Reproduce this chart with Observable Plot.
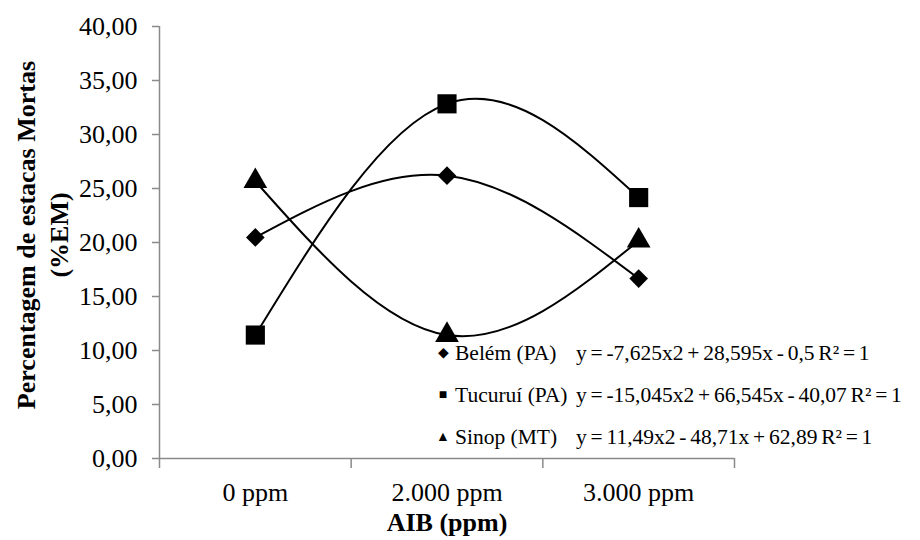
<!DOCTYPE html>
<html>
<head>
<meta charset="utf-8">
<script src="https://cdn.jsdelivr.net/npm/d3@7"></script>
<script src="https://cdn.jsdelivr.net/npm/@observablehq/plot@0.6"></script>
<style>
  html, body { margin: 0; padding: 0; background: #fff; }
  #wrap { position: relative; width: 920px; height: 540px; font-family: "Liberation Serif", "Times New Roman", serif; color: #000; }
  #ytitle { position: absolute; left: 43px; top: 235px; width: 420px; transform: translate(-50%, -50%) rotate(-90deg);
            text-align: center; font-weight: bold; font-size: 26px; line-height: 33px; white-space: nowrap;
            font-family: "Liberation Serif", serif; }
  #xtitle { position: absolute; left: 447px; top: 523px; transform: translate(-50%, -50%); font-weight: bold; font-size: 26px;
            white-space: nowrap; font-family: "Liberation Serif", serif; }
  #legend { position: absolute; left: 436px; top: 332px; font-size: 21.5px; font-family: "Liberation Serif", serif; }
  .row { height: 42px; line-height: 42px; white-space: nowrap; display: flex; align-items: center; }
  .row span { font-family: "Liberation Serif", serif; }
  .mk { display: inline-block; width: 14px; font-size: 14px; text-align: center; margin-right: 5px; }
  .lab { display: inline-block; width: 121px; }
  .eq { word-spacing: -1.6px; }
</style>
</head>
<body>
<div id="wrap"></div>
<script>
const categories = ["0 ppm", "2.000 ppm", "3.000 ppm"];
const seriesNames = ["Belém (PA)", "Tucuruí (PA)", "Sinop (MT)"];
const belem = [20.47, 26.19, 16.66];
const tucurui = [11.43, 32.84, 24.16];
const sinop = [25.67, 11.43, 20.17];
const equations = [
  "y = -7,625x2 + 28,595x - 0,5 R² = 1",
  "y = -15,045x2 + 66,545x - 40,07 R² = 1",
  "y = 11,49x2 - 48,71x + 62,89 R² = 1"
];
const legendGlyphs = ["◆", "■", "▲"];
const yTicks = [0, 5, 10, 15, 20, 25, 30, 35, 40];
const yTitle = ["Percentagem de estacas Mortas", "(%EM)"];
const xTitle = "AIB (ppm)";

const valuesBySeries = [belem, tucurui, sinop];
const data = [];
seriesNames.forEach((s, si) => {
  valuesBySeries[si].forEach((v, i) => data.push({series: s, pos: i + 1, cat: categories[i], value: v}));
});

const symbols = ["diamond2", "square", "triangle"];
const radii = [8.4, 10.8, 8.8];
const fmt = d => d.toFixed(2).replace(".", ",");

const plot = Plot.plot({
  width: 920,
  height: 540,
  marginLeft: 159,
  marginRight: 186,
  marginTop: 26,
  marginBottom: 82,
  x: {domain: [0.5, categories.length + 0.5]},
  y: {domain: [0, 40]},
  style: {fontFamily: "'Liberation Serif', 'Times New Roman', serif", fontSize: "26px", color: "#000", background: "transparent"},
  marks: [
    Plot.ruleY([0], {stroke: "#8a8a8a", strokeWidth: 1.5}),
    Plot.ruleX([0.5], {stroke: "#8a8a8a", strokeWidth: 1.5}),
    Plot.axisY({ticks: yTicks, tickSize: 7, tickPadding: 15, stroke: "#8a8a8a", strokeWidth: 1.5, tickFormat: fmt, label: null, fontSize: 26}),
    Plot.axisX({ticks: d3.range(categories.length + 1).map(i => i + 0.5), tickSize: 10, stroke: "#8a8a8a", strokeWidth: 1.5, tickFormat: () => "", label: null}),
    Plot.axisX({ticks: categories.map((c, i) => i + 1), tickSize: 0, tickPadding: 24, tickFormat: d => categories[d - 1], label: null, fontSize: 26}),
    Plot.line(data, {x: "pos", y: "value", z: "series", curve: "natural", stroke: "#000", strokeWidth: 2}),
    ...seriesNames.map((s, si) => Plot.dot(data.filter(d => d.series === s), {x: "pos", y: "value", symbol: symbols[si], r: radii[si], fill: "#000", stroke: "none"}))
  ]
});

const wrap = document.getElementById("wrap");
wrap.appendChild(plot);

const yt = document.createElement("div");
yt.id = "ytitle";
yt.innerHTML = yTitle.map(t => `<div>${t}</div>`).join("");
wrap.appendChild(yt);

const xt = document.createElement("div");
xt.id = "xtitle";
xt.textContent = xTitle;
wrap.appendChild(xt);

const lg = document.createElement("div");
lg.id = "legend";
seriesNames.forEach((s, i) => {
  const row = document.createElement("div");
  row.className = "row";
  row.innerHTML = `<span class="mk">${legendGlyphs[i]}</span><span class="lab">${s}</span><span class="eq">${equations[i]}</span>`;
  lg.appendChild(row);
});
wrap.appendChild(lg);
</script>
</body>
</html>
